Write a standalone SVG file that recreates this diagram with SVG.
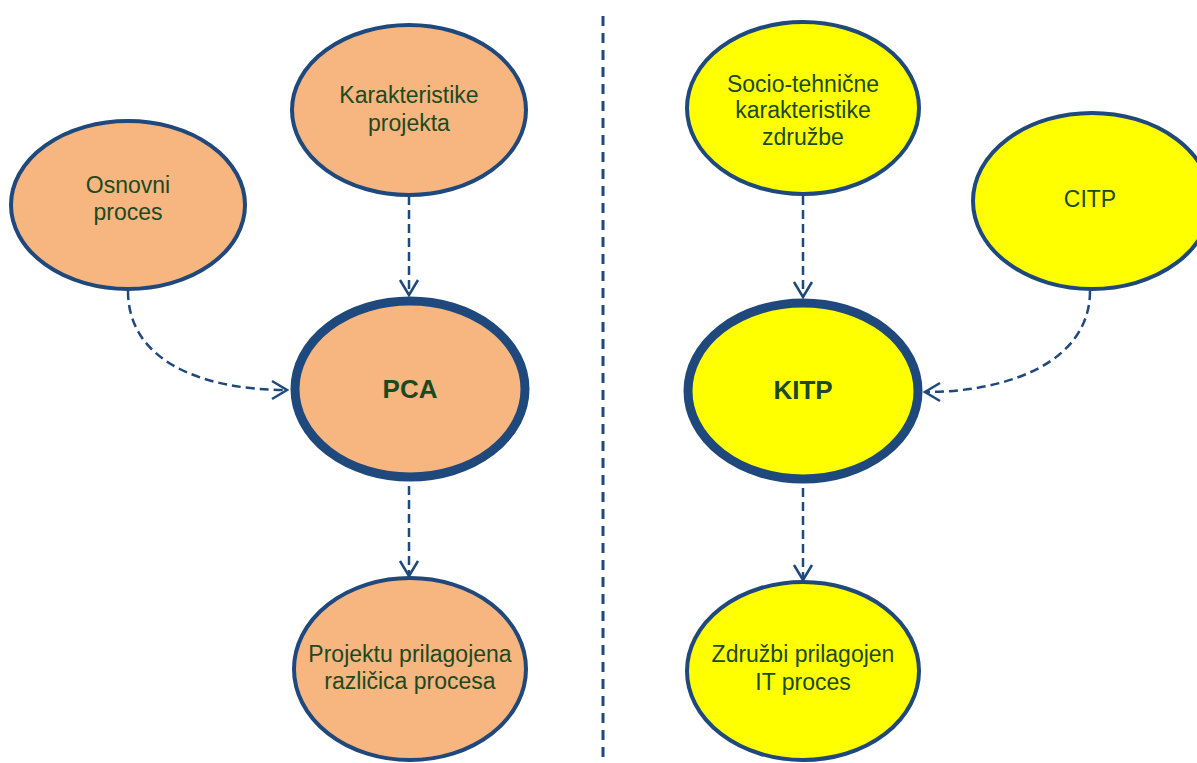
<svg xmlns="http://www.w3.org/2000/svg" width="1197" height="763" viewBox="0 0 1197 763">
  <style>
    .node { stroke: #1f487c; stroke-width: 4; }
    .main { stroke-width: 9; }
    .orange { fill: #f7b57f; }
    .yellow { fill: #ffff00; }
    .lbl { font-family: "Liberation Sans", Arial, sans-serif; font-size: 23px; fill: #1b4a22; text-anchor: middle; }
    .big { font-size: 26px; font-weight: bold; }
    .edge { fill: none; stroke: #1f487c; stroke-width: 2.5; stroke-dasharray: 9 5; }
    .divider { fill: none; stroke: #1f487c; stroke-width: 3; stroke-dasharray: 10 7; }
  </style>
  <defs>
    <marker id="arrow" markerUnits="userSpaceOnUse" markerWidth="22" markerHeight="22" viewBox="0 0 22 22" refX="17" refY="11" orient="auto">
      <path d="M2,2 L17,11 L2,20" fill="none" stroke="#1f487c" stroke-width="2.5"/>
    </marker>
  </defs>
  <rect width="1197" height="763" fill="#ffffff"/>

  <!-- vertical separator between the two halves -->
  <line class="divider" x1="603" y1="16" x2="603" y2="766"/>

  <g id="connectors">
    <line class="edge" x1="409" y1="196" x2="409" y2="295" marker-end="url(#arrow)"/>
    <path class="edge" d="M128,291 C128,360 200,390 287,390" marker-end="url(#arrow)"/>
    <line class="edge" x1="409" y1="486" x2="409" y2="576" marker-end="url(#arrow)"/>
    <line class="edge" x1="803" y1="196" x2="803" y2="297" marker-end="url(#arrow)"/>
    <path class="edge" d="M1090,291 C1090,360 1012,392 925,392" marker-end="url(#arrow)"/>
    <line class="edge" x1="803" y1="488" x2="803" y2="580" marker-end="url(#arrow)"/>
  </g>

  <g id="osnovni-proces">
    <ellipse class="node orange" cx="128" cy="205" rx="117" ry="84"/>
    <text class="lbl" x="128" y="193">Osnovni</text>
    <text class="lbl" x="128" y="220">proces</text>
  </g>

  <g id="karakteristike-projekta">
    <ellipse class="node orange" cx="409" cy="110" rx="117" ry="85"/>
    <text class="lbl" x="409" y="103">Karakteristike</text>
    <text class="lbl" x="409" y="131">projekta</text>
  </g>

  <g id="pca">
    <ellipse class="node main orange" cx="410" cy="389" rx="115" ry="88"/>
    <text class="lbl big" x="410" y="398">PCA</text>
  </g>

  <g id="prilagojena-razlicica">
    <ellipse class="node orange" cx="410" cy="669" rx="116" ry="91"/>
    <text class="lbl" x="410" y="662">Projektu prilagojena</text>
    <text class="lbl" x="410" y="689">različica procesa</text>
  </g>

  <g id="socio-tehnicne">
    <ellipse class="node yellow" cx="803" cy="108" rx="116" ry="86"/>
    <text class="lbl" x="803" y="92">Socio-tehnične</text>
    <text class="lbl" x="803" y="118">karakteristike</text>
    <text class="lbl" x="803" y="145">združbe</text>
  </g>

  <g id="citp">
    <ellipse class="node yellow" cx="1092" cy="201" rx="119" ry="88"/>
    <text class="lbl" x="1090" y="207">CITP</text>
  </g>

  <g id="kitp">
    <ellipse class="node main yellow" cx="803" cy="391" rx="115" ry="88"/>
    <text class="lbl big" x="803" y="399">KITP</text>
  </g>

  <g id="prilagojen-it-proces">
    <ellipse class="node yellow" cx="803" cy="671" rx="116" ry="89"/>
    <text class="lbl" x="803" y="662">Združbi prilagojen</text>
    <text class="lbl" x="803" y="690">IT proces</text>
  </g>
</svg>
